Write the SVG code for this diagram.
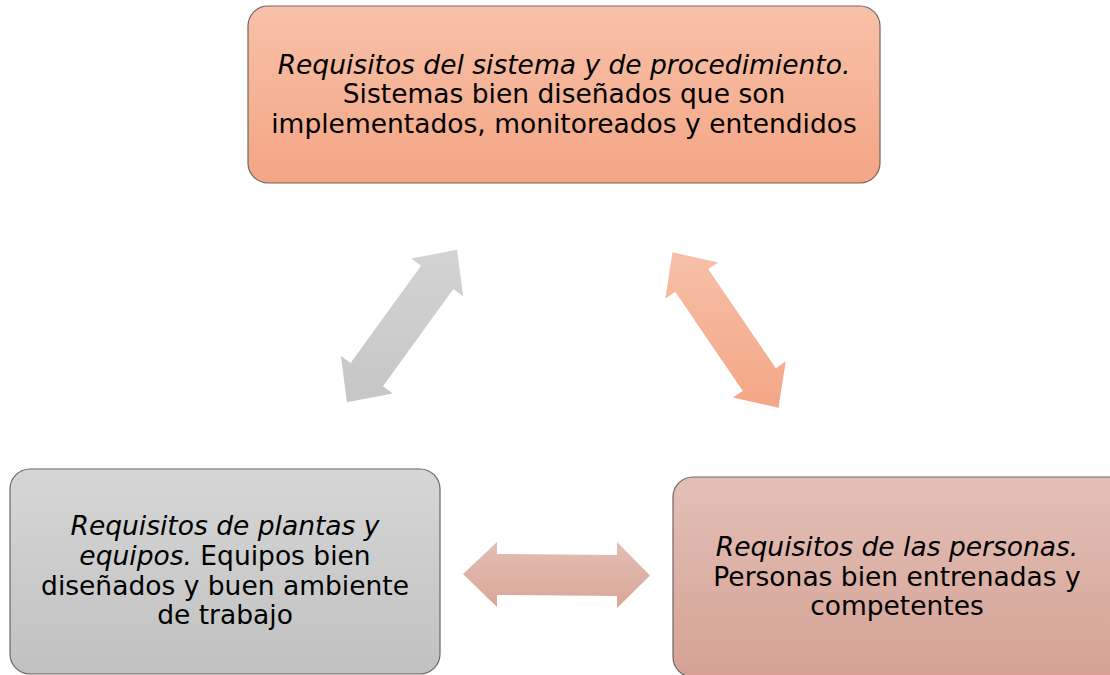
<svg xmlns="http://www.w3.org/2000/svg" width="1110" height="675" viewBox="0 0 1110 675">
<defs>
<linearGradient id="gTop" x1="0" y1="0" x2="0" y2="1"><stop offset="0" stop-color="#f7c1a9"/><stop offset="1" stop-color="#f4a584"/></linearGradient>
<linearGradient id="gLeft" x1="0" y1="0" x2="0" y2="1"><stop offset="0" stop-color="#d6d6d6"/><stop offset="1" stop-color="#c1c1c1"/></linearGradient>
<linearGradient id="gRight" x1="0" y1="0" x2="0" y2="1"><stop offset="0" stop-color="#e3c0b7"/><stop offset="1" stop-color="#d5a194"/></linearGradient>
<linearGradient id="aGray" x1="0" y1="0" x2="0" y2="1"><stop offset="0" stop-color="#d3d3d3"/><stop offset="1" stop-color="#c6c6c6"/></linearGradient>
<linearGradient id="aOr" x1="0" y1="0" x2="0" y2="1"><stop offset="0" stop-color="#f6c0a8"/><stop offset="1" stop-color="#f4a685"/></linearGradient>
<linearGradient id="aRose" x1="0" y1="0" x2="0" y2="1"><stop offset="0" stop-color="#e3beb4"/><stop offset="1" stop-color="#d9a698"/></linearGradient>
</defs>
<style>
.box{stroke:#6e6660;stroke-width:1.2}
.t{font-family:"DejaVu Sans","Verdana",sans-serif;font-size:26.5px;fill:#000;text-anchor:middle}
.i{font-style:italic}
</style>
<g id="connectors">
<path d="M457.1,249.8 L463.1,296.2 L453.4,289.1 L383.0,386.3 L392.7,393.4 L346.9,402.2 L340.9,355.8 L350.6,362.9 L421.0,265.7 L411.3,258.6 Z" fill="url(#aGray)"/>
<path d="M672.5,252.3 L718.1,262.4 L708.2,269.1 L775.8,368.3 L785.7,361.6 L778.5,407.7 L732.9,397.6 L742.8,390.9 L675.2,291.7 L665.3,298.4 Z" fill="url(#aOr)"/>
<path d="M463,574 L497,542 L497,554 L617,555 L617,542 L650,575.5 L617,608 L617,596 L497,595 L497,607 Z" fill="url(#aRose)"/>
</g>
<g id="node-top">
<rect class="box" x="248" y="6" width="632" height="177" rx="20" fill="url(#gTop)"/>
<text class="t" x="564" y="74"><tspan class="i">Requisitos del sistema y de procedimiento.</tspan></text>
<text class="t" x="564" y="103">Sistemas bien diseñados que son</text>
<text class="t" x="564" y="133">implementados, monitoreados y entendidos</text>
</g>
<g id="node-left">
<rect class="box" x="10" y="469" width="430" height="205" rx="20" fill="url(#gLeft)"/>
<text class="t" x="225" y="535"><tspan class="i">Requisitos de plantas y</tspan></text>
<text class="t" x="225" y="565"><tspan class="i">equipos.</tspan> Equipos bien</text>
<text class="t" x="225" y="595">diseñados y buen ambiente</text>
<text class="t" x="225" y="624">de trabajo</text>
</g>
<g id="node-right">
<rect class="box" x="673" y="477" width="460" height="200" rx="20" fill="url(#gRight)"/>
<text class="t" x="897" y="556"><tspan class="i">Requisitos de las personas.</tspan></text>
<text class="t" x="897" y="586">Personas bien entrenadas y</text>
<text class="t" x="897" y="615">competentes</text>
</g>
</svg>
